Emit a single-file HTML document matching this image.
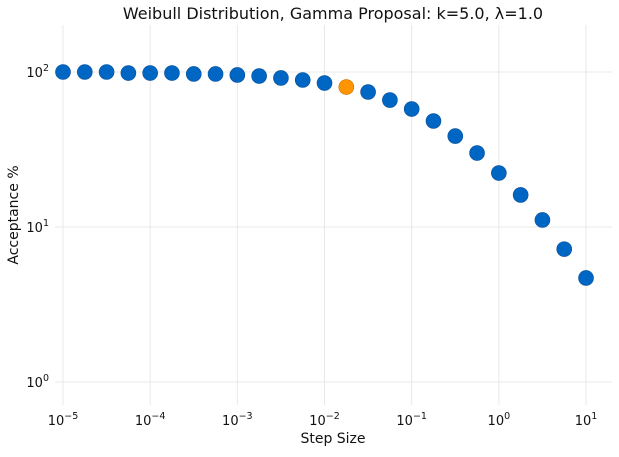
<!DOCTYPE html>
<html><head><meta charset="utf-8"><style>
body{margin:0;background:#fff;font-family:"DejaVu Sans","Liberation Sans",sans-serif}
</style></head><body>
<svg id="c" width="619" height="453" xmlns="http://www.w3.org/2000/svg"></svg>
<script>
const xExp=[-5,-4.75,-4.5,-4.25,-4,-3.75,-3.5,-3.25,-3,-2.75,-2.5,-2.25,-2,-1.75,-1.5,-1.25,-1,-0.75,-0.5,-0.25,0,0.25,0.5,0.75,1];
const acceptance=[100,100,100,98.5,98.5,98.5,97.1,97.1,95.7,94.2,91.5,88.8,84.9,80.0,74.3,65.9,57.7,48.3,38.6,30.0,22.3,16.1,11.1,7.2,4.69];
const highlightIndex=13;
const xTicks=[-5,-4,-3,-2,-1,0,1];
const yTicks=[0,1,2];
const NS="http://www.w3.org/2000/svg";
const svg=document.getElementById('c');
const X=e=>63+(e+5)*87.17;
const Y=v=>382-Math.log10(v)*155;
function mk(t,a,txt){const el=document.createElementNS(NS,t);for(const k in a)el.setAttribute(k,a[k]);if(txt!==undefined)el.textContent=txt;svg.appendChild(el);return el;}
const L=55,R=612,T=25,B=405;
for(const e of xTicks){
 const g=mk('line',{x1:X(e),x2:X(e),y1:T,y2:B,stroke:'#e8e8e8','stroke-width':1});
 
 
 const t=mk('text',{x:X(e),y:425,'text-anchor':'middle','font-size':13,fill:'#111'});
 
 
 t.innerHTML='10<tspan dy="-6" font-size="9.5">\u2212'+Math.abs(e)+'</tspan>';
 if(e>=0)t.innerHTML='10<tspan dy="-6" font-size="9.5">'+e+'</tspan>';
}
for(const e of yTicks){
 const y=Y(Math.pow(10,e));
 const g=mk('line',{x1:L,x2:R,y1:y,y2:y,stroke:'#e8e8e8','stroke-width':1});
 
 
 const t=mk('text',{x:49,y:y+5,'text-anchor':'end','font-size':13,fill:'#111'});
 
 
 t.innerHTML='10<tspan dy="-6" font-size="9.5">'+e+'</tspan>';
}
xExp.forEach((e,i)=>{
 const c=mk('circle',{cx:X(e),cy:Y(acceptance[i]),r:7.5,fill:i===highlightIndex?'#ff9500':'#0066c4',stroke:i===highlightIndex?'#c87000':'#0a4f96','stroke-width':0.6});
 
 
});
const ti=mk('text',{x:333,y:19,'text-anchor':'middle','font-size':16,fill:'#111'},'Weibull Distribution, Gamma Proposal: k=5.0, λ=1.0');

const xl=mk('text',{x:333,y:443,'text-anchor':'middle','font-size':14,fill:'#111'},'Step Size');

const yl=mk('text',{x:18,y:215,'text-anchor':'middle','font-size':14,fill:'#111',transform:'rotate(-90 18 215)'},'Acceptance %');

</script>
</body></html>
